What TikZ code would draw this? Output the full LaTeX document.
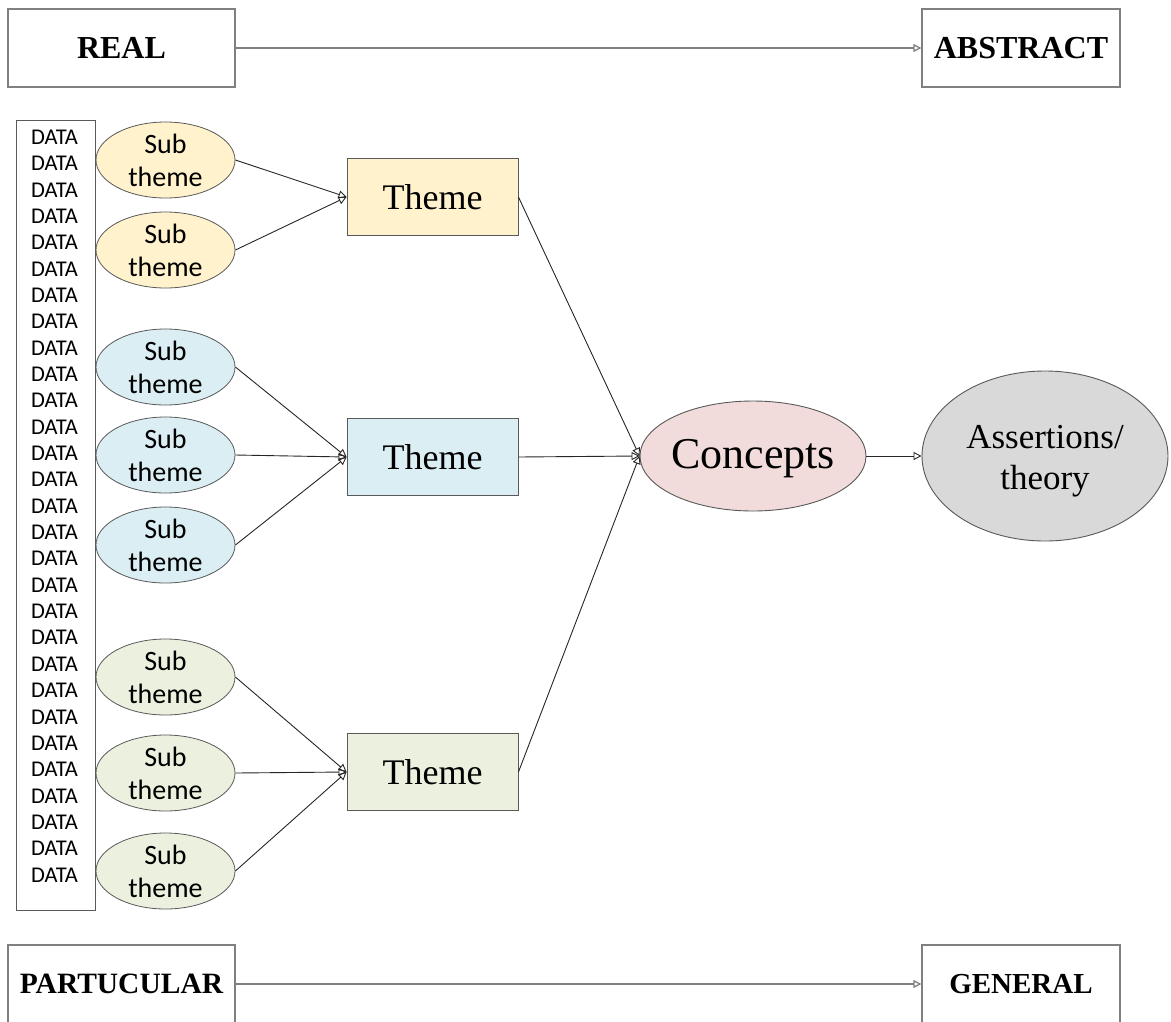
\documentclass[tikz,border=0pt]{standalone}
\usepackage{fontspec}
\setmainfont{Liberation Serif}
\newfontfamily\calib{Carlito}
\usetikzlibrary{arrows.meta,shapes.geometric}
\definecolor{yel}{HTML}{FFF2CC}
\definecolor{blu}{HTML}{DAEEF3}
\definecolor{grn}{HTML}{EBF1DE}
\definecolor{pnk}{HTML}{F2DCDB}
\definecolor{gry}{HTML}{D9D9D9}
\definecolor{edge}{HTML}{595959}
\tikzset{
  x=1pt, y=-1pt,
  endbox/.style={draw=gray, line width=1.3pt, minimum width=227pt, minimum height=78pt, inner sep=0pt, font=\fontsize{32}{36}\selectfont\bfseries},
  endbox2/.style={endbox, minimum width=198pt},
  subth/.style={ellipse, draw=edge, line width=0.8pt, minimum width=139pt, minimum height=76pt, inner sep=0pt, align=center, font=\calib\fontsize{28}{33}\selectfont},
  themebox/.style={draw=edge, line width=0.9pt, minimum width=171pt, minimum height=77pt, inner sep=0pt, font=\fontsize{36}{40}\selectfont},
  conn/.style={draw=black!85, line width=0.9pt, -{Triangle[open, length=8pt, width=8pt]}},
  bigconn/.style={draw=gray, line width=1.3pt, -{Triangle[open, length=8pt, width=8pt]}}
}
\begin{document}
\begin{tikzpicture}
\useasboundingbox (0,0) rectangle (1171,1021);
% top/bottom
\node[endbox] (real) at (121.5,48) {REAL};
\node[endbox2] (abs) at (1021,48) {ABSTRACT};
\node[endbox, font=\fontsize{29.5}{33}\selectfont\bfseries] (part) at (121.5,984) {PARTUCULAR};
\node[endbox2, font=\fontsize{29}{33}\selectfont\bfseries] (gen) at (1021,984) {GENERAL};
\draw[bigconn] (real) -- (abs);
\draw[bigconn] (part) -- (gen);
% data column
\node[draw=edge, line width=1pt, minimum width=79pt, minimum height=790pt, inner sep=0pt] (data) at (55.5,515) {};
\node[align=center, font=\calib\fontsize{22.5}{26.35}\selectfont, inner sep=0pt] (datatext) at (54.5,506) {DATA\\DATA\\DATA\\DATA\\DATA\\DATA\\DATA\\DATA\\DATA\\DATA\\DATA\\DATA\\DATA\\DATA\\DATA\\DATA\\DATA\\DATA\\DATA\\DATA\\DATA\\DATA\\DATA\\DATA\\DATA\\DATA\\DATA\\DATA\\DATA};
% sub themes
\node[subth, fill=yel] (y1) at (165.5,160) {Sub\\theme};
\node[subth, fill=yel] (y2) at (165.5,250) {Sub\\theme};
\node[subth, fill=blu] (b1) at (165.5,367) {Sub\\theme};
\node[subth, fill=blu] (b2) at (165.5,455) {Sub\\theme};
\node[subth, fill=blu] (b3) at (165.5,545) {Sub\\theme};
\node[subth, fill=grn] (g1) at (165.5,677) {Sub\\theme};
\node[subth, fill=grn] (g2) at (165.5,773) {Sub\\theme};
\node[subth, fill=grn] (g3) at (165.5,871) {Sub\\theme};
% themes
\node[themebox, fill=yel] (ty) at (432.5,197) {Theme};
\node[themebox, fill=blu] (tb) at (432.5,457) {Theme};
\node[themebox, fill=grn] (tg) at (432.5,772) {Theme};
% concepts and theory
\node[ellipse, draw=edge, line width=0.9pt, fill=pnk, minimum width=226pt, minimum height=110pt, inner sep=0pt] (con) at (753,456) {};
\node[font=\fontsize{44}{48}\selectfont, inner sep=0pt] (context) at (753,459) {Concepts};
\node[ellipse, draw=edge, line width=0.9pt, fill=gry, minimum width=246pt, minimum height=170pt, inner sep=0pt] (ass) at (1045,456) {};
\node[align=center, font=\fontsize{35}{41}\selectfont, inner sep=0pt] (asstext) at (1045,461) {Assertions/\\theory};
% connectors
\foreach \s in {y1,y2} \draw[conn] (\s.east) -- (ty.west);
\foreach \s in {b1,b2,b3} \draw[conn] (\s.east) -- (tb.west);
\foreach \s in {g1,g2,g3} \draw[conn] (\s.east) -- (tg.west);
\draw[conn] (ty.east) -- (con.west);
\draw[conn] (tb.east) -- (con.west);
\draw[conn] (tg.east) -- (con.west);
\draw[conn] (con.east) -- (ass.west);
\end{tikzpicture}
\end{document}
